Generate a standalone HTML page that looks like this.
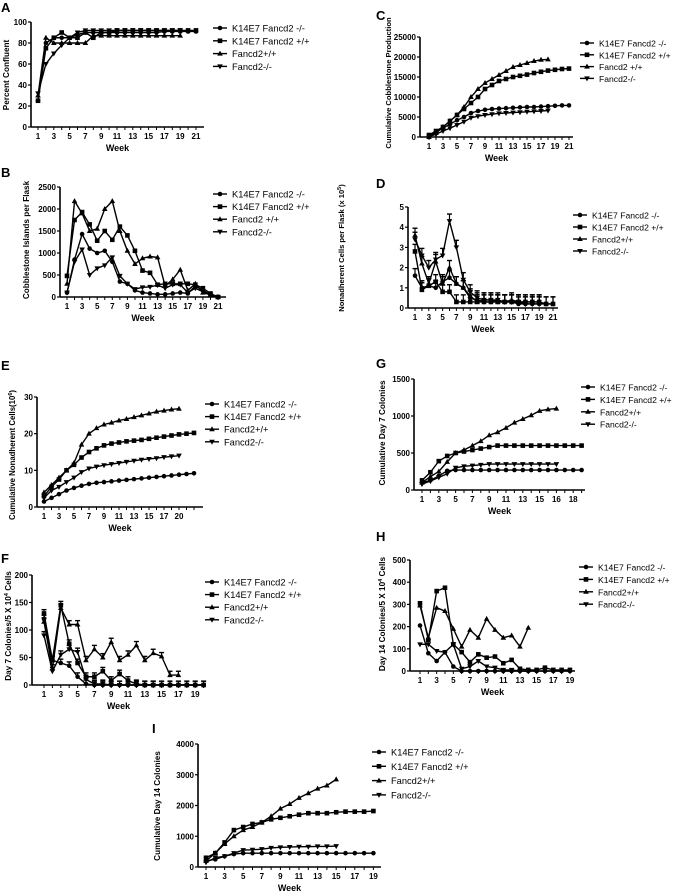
<!DOCTYPE html>
<html><head><meta charset="utf-8"><style>
html,body{margin:0;padding:0;background:#fff;}
svg{display:block;font-family:"Liberation Sans",Arial,sans-serif;}
</style></head><body>
<svg id="fig" width="675" height="894" viewBox="0 0 675 894"></svg>
<script>
// ---- Data ----
const A_circ=[25,80,85,85,85,88,90,90,90,90,90,90,90,90,90,90,91,91,91,91,91];
const A_sq=[25,75,85,90,85,85,90,85,90,90,92,92,92,92,92,92,92,92,92,92,92];
const A_tri=[30,85,80,80,80,80,80,87,87,87,87,87,87,87,87,87,87,87,87];
const A_inv=[32,60,70,78,85,90,92,92,92,92,92,92,92,92,92,92,92,92,92];

const B_circ=[100,850,1430,1100,1000,1050,800,350,300,150,100,80,60,60,80,100,80,250,150,50,0];
const B_sq=[480,1750,1930,1650,1280,1500,1300,1600,1400,1050,600,550,280,300,300,300,300,280,200,80,0];
const B_tri=[300,2180,1900,1500,1550,2000,2180,1500,1050,750,880,920,900,250,400,620,150,300,100,50,0];
const B_inv=[100,800,1080,500,650,720,900,480,300,180,220,230,270,200,280,280,100,200,120,50,0];

const C_circ=[300,1200,2200,3200,4200,5000,6000,6500,6800,7000,7100,7200,7300,7400,7500,7500,7600,7700,7800,7900,7900];
const C_sq=[500,1500,2500,4000,5500,7000,8500,10000,12000,13000,14000,14500,15000,15300,15600,16000,16300,16600,16800,17000,17100];
const C_tri=[0,1000,2500,4000,5500,7500,10000,12000,13500,14500,15500,16500,17500,18000,18500,19000,19300,19400];
const C_inv=[100,700,1500,2200,3000,3800,4800,5200,5500,5700,5900,6000,6100,6200,6300,6400,6500,6600];

const D_circ=[1.6,1.0,1.1,1.0,1.3,1.5,1.2,1.0,0.5,0.4,0.3,0.3,0.3,0.3,0.3,0.2,0.2,0.2,0.2,0.2,0.2];
const D_sq=[2.8,0.9,1.1,1.3,0.8,0.8,0.3,0.3,0.3,0.3,0.3,0.3,0.3,0.3,0.3,0.3,0.3,0.3,0.3,0.2,0.2];
const D_tri=[3.6,2.2,1.2,2.3,1.2,2.0,1.2,1.0,0.6,0.3,0.4,0.4,0.3,0.3,0.4,0.3,0.3,0.3,0.3];
const D_inv=[3.4,2.6,2.0,2.4,2.6,4.3,3.0,1.4,0.8,0.5,0.4,0.4,0.4,0.3,0.3,0.3,0.2,0.2,0.2];
const D_err=0.35;

const E_circ=[1.5,2.5,3.5,4.5,5.2,5.8,6.3,6.6,6.8,7,7.2,7.4,7.6,7.8,8,8.2,8.4,8.6,8.8,9,9.2];
const E_sq=[3,5.5,7.5,10,11.5,13.5,15,16,16.8,17.3,17.6,17.9,18.1,18.3,18.6,18.9,19.2,19.5,19.8,20,20.2];
const E_tri=[4,6,8,10,12,17,20,21.5,22.5,23,23.6,24,24.5,25,25.5,26,26.3,26.6,26.8];
const E_inv=[2.5,4.5,5.5,6.8,8,9.5,10.5,11,11.4,11.7,12,12.3,12.6,12.9,13.1,13.3,13.6,13.8,14];

const F_circ=[120,45,40,35,15,2,0,0,0,0,0,0,0,0,0,0,0,0,0,0];
const F_sq=[130,45,145,75,40,15,15,25,8,20,8,2,0,0,0,0,0,0,0,0];
const F_tri=[115,30,140,110,110,45,65,50,78,45,55,72,45,58,52,18,18];
const F_inv=[90,25,55,65,60,10,2,2,0,0,0,0,0,0];
const F_err=7;

const G_circ=[100,130,190,260,270,270,270,270,270,270,270,270,270,270,270,270,270,270,270,270];
const G_sq=[130,240,390,460,500,520,540,560,580,600,600,600,600,600,600,600,600,600,600,600];
const G_tri=[100,180,250,380,500,540,600,660,740,780,840,910,960,1010,1070,1090,1100];
const G_inv=[80,120,170,220,300,320,330,340,350,350,350,350,350,350,350,350,350];

const H_circ=[205,80,45,85,20,0,0,0,0,0,0,0,0,0,0,0,0,0,0];
const H_sq=[305,140,360,375,120,85,40,75,60,65,35,50,10,5,5,15,5,5,5];
const H_tri=[295,150,285,270,190,110,185,150,235,185,150,160,110,195];
const H_inv=[120,120,90,85,120,10,20,45,20,15,5,5,0,0];

const I_circ=[200,250,350,420,450,450,450,450,450,450,450,450,450,450,450,450,450,450,450];
const I_sq=[300,450,800,1200,1300,1400,1450,1550,1600,1650,1700,1750,1750,1750,1780,1800,1800,1800,1820];
const I_tri=[200,450,750,1000,1200,1300,1450,1650,1900,2050,2250,2400,2550,2650,2850];
const I_inv=[150,300,350,450,550,560,580,620,640,650,660,660,670,670,680];

const oddWeeks21=["1","3","5","7","9","11","13","15","17","19","21"];
const oddWeeks19=["1","3","5","7","9","11","13","15","17","19"];
const E_xlabels=["1","3","5","7","9","11","13","15","17","20"];
const G_xlabels=["1","3","5","7","9","11","13","15","16","18"];
const legA=["K14E7 Fancd2 -/-","K14E7 Fancd2 +/+","Fancd2+/+","Fancd2-/-"];
const legB=["K14E7 Fancd2 -/-","K14E7 Fancd2 +/+","Fancd2 +/+","Fancd2-/-"];

const NS="http://www.w3.org/2000/svg";
const svg=document.getElementById('fig');
function mk(tag,attrs,parent,text){const e=document.createElementNS(NS,tag);for(const k in attrs)e.setAttribute(k,attrs[k]);if(text!==undefined)e.textContent=text;(parent||svg).appendChild(e);return e;}

function marker(g,type,x,y){
  let m;
  if(type===0){m=mk('circle',{cx:x,cy:y,r:2.3,fill:'#000'},g);}
  else if(type===1){m=mk('rect',{x:x-2.3,y:y-2.3,width:4.6,height:4.6,fill:'#000'},g);}
  else if(type===2){m=mk('polygon',{points:`${x},${y-3} ${x-2.8},${y+2} ${x+2.8},${y+2}`,fill:'#000'},g);}
  else {m=mk('polygon',{points:`${x},${y+3} ${x-2.8},${y-2} ${x+2.8},${y-2}`,fill:'#000'},g);}
  return m;
}

function panel(c){
  const g=mk('g',{});
  
  
  const xs=i=>c.x1+i*c.step;
  const ys=v=>c.yBot-v/c.yMax*(c.yBot-c.yTop);
  const lt=mk('text',{x:c.lx,y:c.ly,'font-size':13,'font-weight':'bold'},g,c.letter);
  
  
  const ya=mk('line',{x1:c.x0,y1:c.yTop,x2:c.x0,y2:c.yBot,stroke:'#000','stroke-width':1.6},g);
  
  
  const xa=mk('line',{x1:c.x0,y1:c.yBot,x2:c.xEnd,y2:c.yBot,stroke:'#000','stroke-width':1.6},g);
  
  
  c.yTicks.forEach(v=>{
    mk('line',{x1:c.x0-3,y1:ys(v),x2:c.x0,y2:ys(v),stroke:'#000','stroke-width':1.2},g);
    const t=mk('text',{x:c.x0-4,y:ys(v)+3,'font-size':8,'font-weight':'bold','text-anchor':'end'},g,String(v));
    
    
  });
  for(let i=0;i<c.nTicks;i++){mk('line',{x1:xs(i),y1:c.yBot,x2:xs(i),y2:c.yBot+3,stroke:'#000','stroke-width':1},g);}
  c.xLabels.forEach((s,k)=>{
    const t=mk('text',{x:xs(k*2),y:c.yBot+12,'font-size':8,'font-weight':'bold','text-anchor':'middle'},g,s);
    
    
  });
  const wk=mk('text',{x:(c.x0+c.xEnd)/2,y:c.yBot+24,'font-size':9,'font-weight':'bold','text-anchor':'middle'},g,'Week');
  
  
  const yt=mk('text',{x:0,y:0,'font-size':c.ytSize||8.2,'font-weight':'bold','text-anchor':'middle',transform:`translate(${c.ytX},${c.ytY}) rotate(-90)`},g);
  
  
  yt.textContent=c.ytitle;
  if(c.sup){mk('tspan',{'font-size':5.5,dy:-3},yt,c.sup);mk('tspan',{dy:3},yt,c.after||'');}
  c.series.forEach((arr,si)=>{
    const sg=mk('g',{},g);
    
    
    const pts=arr.map((v,i)=>xs(i)+','+ys(v)).join(' ');
    mk('polyline',{points:pts,fill:'none',stroke:'#000','stroke-width':1.4},sg);
    arr.forEach((v,i)=>{
      if(c.err){const ye=ys(v+c.err);mk('line',{x1:xs(i),y1:ys(v),x2:xs(i),y2:ye,stroke:'#000','stroke-width':1.2},sg);mk('line',{x1:xs(i)-2.5,y1:ye,x2:xs(i)+2.5,y2:ye,stroke:'#000','stroke-width':1.4},sg);}
      const m=marker(sg,si,xs(i),ys(v));
      
      
    });
  });
  c.leg.forEach((s,k)=>{
    const y=c.legY+k*c.legDy;
    const lg=mk('g',{},g);
    
    
    mk('line',{x1:c.legX,y1:y,x2:c.legX+14,y2:y,stroke:'#000','stroke-width':1.4},lg);
    marker(lg,k,c.legX+7,y);
    mk('text',{x:c.legX+19,y:y+3.5,'font-size':c.legSize||9.3},lg,s);
  });
}

panel({letter:'A',lx:1,ly:12,x0:31,yTop:22,yBot:127,yMax:100,yTicks:[0,20,40,60,80,100],x1:38,step:7.9,nTicks:21,xEnd:204,xLabels:oddWeeks21,series:[A_circ,A_sq,A_tri,A_inv],leg:legA,legX:213,legY:28,legDy:12.8,ytitle:'Percent Confluent',ytX:9,ytY:75});
panel({letter:'B',lx:1,ly:177,x0:60,yTop:187,yBot:297,yMax:2500,yTicks:[0,500,1000,1500,2000,2500],x1:67,step:7.55,nTicks:21,xEnd:226,xLabels:oddWeeks21,series:[B_circ,B_sq,B_tri,B_inv],leg:legB,legX:213,legY:194,legDy:12.6,ytitle:'Cobblestone Islands per Flask',ytX:29,ytY:240});
panel({letter:'C',lx:376,ly:20,x0:420,yTop:37,yBot:137,yMax:25000,yTicks:[0,5000,10000,15000,20000,25000],x1:429,step:7,nTicks:21,xEnd:573,xLabels:oddWeeks21,series:[C_circ,C_sq,C_tri,C_inv],leg:legB,legX:580,legY:43,legDy:11.8,legSize:8.6,ytitle:'Cumulative Cobblestone Production',ytX:391,ytY:83,ytSize:7.6});
panel({letter:'D',lx:376,ly:188,x0:408,yTop:207,yBot:308,yMax:5,yTicks:[0,1,2,3,4,5],x1:415,step:6.9,nTicks:21,xEnd:558,xLabels:oddWeeks21,series:[D_circ,D_sq,D_tri,D_inv],err:D_err,leg:legA,legX:573,legY:215,legDy:12,legSize:8.6,ytitle:'Nonadherent Cells per Flask (x 10',sup:'5',after:')',ytX:344,ytY:248,ytSize:7.6});
panel({letter:'E',lx:1,ly:370,x0:37,yTop:397,yBot:507,yMax:30,yTicks:[0,10,20,30],x1:44,step:7.5,nTicks:21,xEnd:203,xLabels:E_xlabels,series:[E_circ,E_sq,E_tri,E_inv],leg:legA,legX:205,legY:404,legDy:12.6,ytitle:'Cumulative Nonadherent Cells(10',sup:'6',after:')',ytX:15,ytY:455,ytSize:7.8});
panel({letter:'F',lx:1,ly:563,x0:32,yTop:575,yBot:685,yMax:200,yTicks:[0,50,100,150,200],x1:44,step:8.4,nTicks:20,xEnd:205,xLabels:oddWeeks19,series:[F_circ,F_sq,F_tri,F_inv],err:F_err,leg:legA,legX:205,legY:582,legDy:12.6,ytitle:'Day 7 Colonies/5 X 10',sup:'4',after:' Cells',ytX:11,ytY:626});
panel({letter:'G',lx:376,ly:368,x0:414,yTop:379,yBot:490,yMax:1500,yTicks:[0,500,1000,1500],x1:422,step:8.4,nTicks:20,xEnd:585,xLabels:G_xlabels,series:[G_circ,G_sq,G_tri,G_inv],leg:legA,legX:581,legY:387,legDy:12.4,legSize:8.6,ytitle:'Cumulative Day 7 Colonies',ytX:385,ytY:433});
panel({letter:'H',lx:376,ly:541,x0:410,yTop:560,yBot:671,yMax:500,yTicks:[0,100,200,300,400,500],x1:420,step:8.33,nTicks:19,xEnd:575,xLabels:oddWeeks19,series:[H_circ,H_sq,H_tri,H_inv],leg:legA,legX:579,legY:567,legDy:12.4,legSize:8.6,ytitle:'Day 14 Colonies/5 X 10',sup:'4',after:' Cells',ytX:385,ytY:614});
panel({letter:'I',lx:152,ly:733,x0:198,yTop:744,yBot:867,yMax:4000,yTicks:[0,1000,2000,3000,4000],x1:206,step:9.3,nTicks:19,xEnd:381,xLabels:oddWeeks19,series:[I_circ,I_sq,I_tri,I_inv],leg:legA,legX:372,legY:752,legDy:14.3,ytitle:'Cumulative Day 14 Colonies',ytX:160,ytY:806});
</script>
</body></html>
